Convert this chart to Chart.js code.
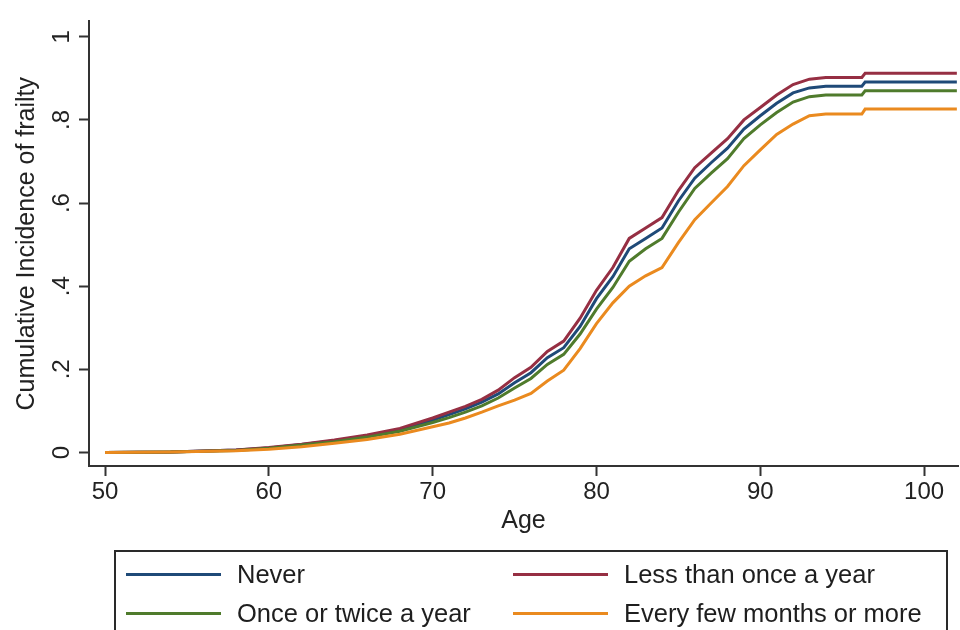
<!DOCTYPE html>
<html>
<head>
<meta charset="utf-8">
<script src="https://cdn.jsdelivr.net/npm/chart.js@4.4.0/dist/chart.umd.min.js"></script>
<style>
  html, body { margin: 0; padding: 0; background: #fff; overflow: hidden; }
  #wrap { position: relative; width: 960px; height: 630px; }
  #legend {
    position: absolute; left: 114px; top: 550px; width: 834px; height: 120px;
    border: 2px solid #2a2a2a; box-sizing: border-box;
    font-family: "Liberation Sans", Arial, sans-serif; font-size: 25.5px; color: #1e1e1e;
  }
  .item { position: absolute; display: flex; align-items: center; height: 28px; white-space: nowrap; }
  .swatch { display: inline-block; width: 95px; height: 3px; margin-right: 16px; }
</style>
</head>
<body>
<div id="wrap">
  <canvas id="myChart" width="960" height="630"></canvas>
  <div id="legend"></div>
</div>
<script>
const ages = [50, 54, 58, 60, 62, 64, 66, 68, 70, 71, 72, 73, 74, 75, 76, 77, 78, 79, 80, 81, 82, 83, 84, 85, 86, 87, 88, 89, 90, 91, 92, 93, 94, 96.2, 96.4, 102];
const never = [0, 0.001, 0.006, 0.011, 0.019, 0.028, 0.04, 0.055, 0.078, 0.091, 0.105, 0.121, 0.141, 0.168, 0.192, 0.228, 0.252, 0.303, 0.37, 0.423, 0.49, 0.515, 0.54, 0.605, 0.66, 0.697, 0.732, 0.778, 0.81, 0.84, 0.865, 0.877, 0.881, 0.881, 0.891, 0.891];
const lessThanOnce = [0, 0.001, 0.006, 0.012, 0.02, 0.03, 0.042, 0.058, 0.083, 0.097, 0.111, 0.128, 0.15, 0.18, 0.205, 0.243, 0.268, 0.323, 0.39, 0.445, 0.515, 0.54, 0.565, 0.63, 0.685, 0.72, 0.755, 0.8, 0.83, 0.86, 0.885, 0.898, 0.902, 0.902, 0.912, 0.912];
const onceOrTwice = [0, 0.001, 0.005, 0.01, 0.018, 0.026, 0.037, 0.051, 0.072, 0.084, 0.097, 0.112, 0.131, 0.155, 0.178, 0.212, 0.236, 0.285, 0.345, 0.397, 0.46, 0.49, 0.515, 0.578, 0.635, 0.672, 0.707, 0.755, 0.788, 0.818, 0.843, 0.856, 0.86, 0.86, 0.87, 0.87];
const everyFewMonths = [0, 0.001, 0.004, 0.008, 0.014, 0.022, 0.031, 0.044, 0.062, 0.071, 0.083, 0.097, 0.112, 0.126, 0.142, 0.172, 0.198, 0.25, 0.31, 0.36, 0.4, 0.425, 0.445, 0.505, 0.56, 0.6, 0.64, 0.69, 0.728, 0.765, 0.79, 0.81, 0.814, 0.814, 0.826, 0.826];

const seriesNames = ["Never", "Less than once a year", "Once or twice a year", "Every few months or more"];
const seriesColors = ["#1f4a78", "#962f43", "#4f7b2c", "#ea8a1f"];
const xTicks = [50, 60, 70, 80, 90, 100];
const yTicks = [0, 0.2, 0.4, 0.6, 0.8, 1];
const yTickLabels = ["0", ".2", ".4", ".6", ".8", "1"];

Chart.defaults.font.family = '"Liberation Sans", Arial, sans-serif';
Chart.defaults.color = "#222";

const toPoints = (values) => values.map((v, i) => ({ x: ages[i], y: v }));
const allSeries = [never, lessThanOnce, onceOrTwice, everyFewMonths];

const ctx = document.getElementById("myChart").getContext("2d");
const myChart = new Chart(ctx, {
  type: "line",
  data: {
    datasets: allSeries.map((values, i) => ({
      label: seriesNames[i],
      data: toPoints(values),
      borderColor: seriesColors[i],
      backgroundColor: seriesColors[i],
      borderWidth: 3,
      pointRadius: 0,
      tension: 0,
      fill: false,
      order: 3 - i,
    })),
  },
  options: {
    responsive: false,
    animation: false,
    devicePixelRatio: 1,
    layout: { padding: { top: 5, right: 2, bottom: 94, left: 0 } },
    plugins: {
      legend: { display: false },
      tooltip: { enabled: false },
    },
    scales: {
      x: {
        type: "linear",
        min: 49.02,
        max: 102.07,
        afterBuildTicks: (scale) => {
          scale.ticks = xTicks.map((v) => ({ value: v }));
        },
        afterFit: (scale) => {
          scale.height = 70;
        },
        border: { display: true, color: "#333", width: 2 },
        grid: { drawOnChartArea: false, drawTicks: true, tickLength: 10, tickColor: "#333", tickWidth: 2 },
        ticks: { font: { size: 24 }, padding: 2, maxRotation: 0, autoSkip: false },
        title: { display: true, text: "Age", font: { size: 25 }, padding: 0 },
      },
      y: {
        type: "linear",
        min: -0.0325,
        max: 1.037,
        afterBuildTicks: (scale) => {
          scale.ticks = yTicks.map((v) => ({ value: v }));
        },
        afterFit: (scale) => {
          scale.width = 89;
        },
        border: { display: true, color: "#333", width: 2 },
        grid: { drawOnChartArea: false, drawTicks: true, tickLength: 10, tickColor: "#333", tickWidth: 2 },
        ticks: {
          font: { size: 24 },
          padding: 7,
          minRotation: 90,
          maxRotation: 90,
          crossAlign: "center",
          autoSkip: false,
          callback: (value, index) => yTickLabels[index],
        },
        title: { display: true, text: "Cumulative Incidence of frailty", font: { size: 25 }, padding: { top: 12, bottom: 0 } },
      },
    },
  },
});

const legendEl = document.getElementById("legend");
seriesNames.forEach((name, i) => {
  const item = document.createElement("div");
  item.className = "item";
  item.style.left = (i % 2 === 0 ? 10 : 397) + "px";
  item.style.top = (i < 2 ? 8 : 47) + "px";
  item.innerHTML = '<span class="swatch" style="background:' + seriesColors[i] + '"></span>' + name;
  legendEl.appendChild(item);
});
</script>
</body>
</html>
